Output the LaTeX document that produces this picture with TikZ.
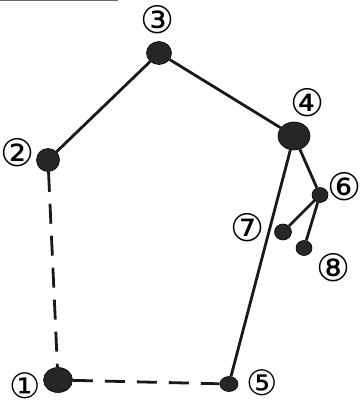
\documentclass[tikz,border=0pt]{standalone}
\usepackage{fontspec}
\newfontfamily\circfont{DejaVu Sans}
\usetikzlibrary{shapes.geometric}
\begin{document}
\begin{tikzpicture}[x=1pt,y=-1pt,
  dot/.style={ellipse,fill=black!85,draw=black,line width=0.6pt,inner sep=0pt},
  lbl/.style={font=\circfont\fontsize{38}{38}\selectfont,inner sep=0pt},
  lblb/.style={font=\circfont\fontsize{35}{35}\selectfont,inner sep=0pt},
  edge/.style={line width=2.8pt,draw=black!90},
  dedge/.style={edge,dash pattern=on 20pt off 12pt}]
\useasboundingbox (0,0) rectangle (361,407);
\fill[white] (0,0) rectangle (361,407);
\draw[black!60,line width=1pt] (0,0.5) -- (118,0.5);
% nodes
\node[dot,minimum width=29pt,minimum height=25pt] (n1) at (58,380) {};
\node[dot,minimum width=23pt,minimum height=23pt] (n2) at (48,160) {};
\node[dot,minimum width=25pt,minimum height=23pt] (n3) at (159,53) {};
\node[dot,minimum width=32pt,minimum height=28pt] (n4) at (294,136) {};
\node[dot,minimum width=18pt,minimum height=15pt] (n5) at (229,384) {};
\node[dot,minimum width=16pt,minimum height=15pt] (n6) at (320,195) {};
\node[dot,minimum width=17pt,minimum height=16pt] (n7) at (283,232) {};
\node[dot,minimum width=16pt,minimum height=15pt] (n8) at (304,248) {};
% labels
\node[lblb] (l1) at (25,385.5) {①};
\node[lbl] (l2) at (18,153) {②};
\node[lbl] (l3) at (158,20) {③};
\node[lbl] (l4) at (308,103) {④};
\node[lblb] (l5) at (262,383) {⑤};
\node[lbl] (l6) at (345,187) {⑥};
\node[lbl] (l7) at (248,228) {⑦};
\node[lbl] (l8) at (334,268) {⑧};
% edges
\draw[edge] (n2) -- (n3);
\draw[edge] (n3) -- (n4);
\draw[edge] (n4) -- (n5);
\draw[edge] (n4) -- (n6);
\draw[edge] (n6) -- (n7);
\draw[edge] (n6) -- (n8);
\draw[dedge] (n2) -- (n1);
\draw[dedge] (n1) -- (n5);
\end{tikzpicture}
\end{document}
